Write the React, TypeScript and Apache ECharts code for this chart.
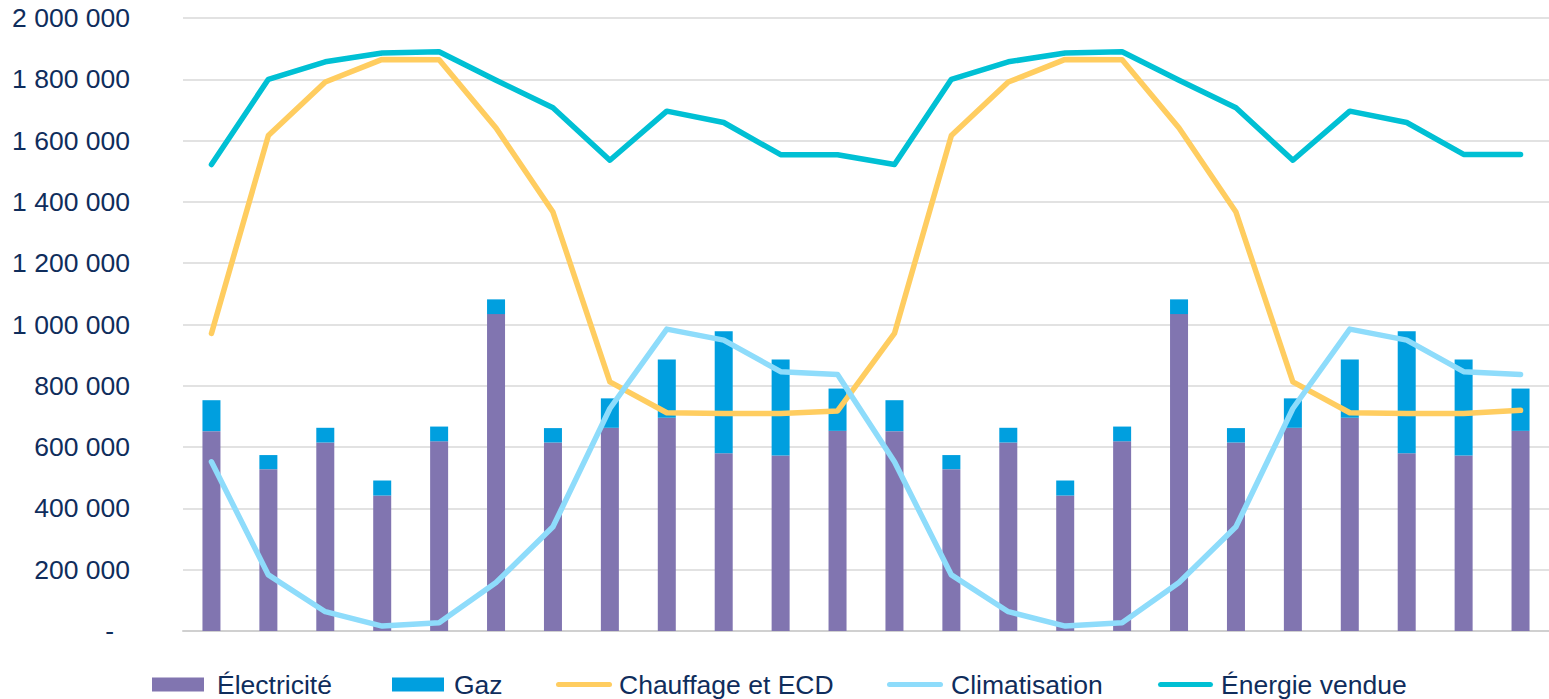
import React, { useEffect, useRef } from "react";
import * as echarts from "echarts";

const categories = [
  "1", "2", "3", "4", "5", "6", "7", "8", "9", "10", "11", "12",
  "13", "14", "15", "16", "17", "18", "19", "20", "21", "22", "23", "24",
];

const electricite = [
  652000, 528000, 615000, 442000, 619000, 1034000, 615000, 663000, 696000, 580000, 573000, 653000,
  652000, 528000, 615000, 442000, 619000, 1034000, 615000, 663000, 696000, 580000, 573000, 653000,
];

const gaz = [
  101000, 46000, 48000, 49000, 48000, 48000, 47000, 96000, 190000, 398000, 313000, 138000,
  101000, 46000, 48000, 49000, 48000, 48000, 47000, 96000, 190000, 398000, 313000, 138000,
];

const chauffage = [
  971000, 1617000, 1791000, 1865000, 1864000, 1641000, 1367000, 813000, 712000, 710000, 710000, 718000,
  971000, 1617000, 1791000, 1865000, 1864000, 1641000, 1367000, 813000, 712000, 710000, 710000, 720000,
];

const climatisation = [
  552000, 183000, 63000, 16000, 27000, 158000, 340000, 726000, 985000, 949000, 846000, 837000,
  552000, 183000, 63000, 16000, 27000, 158000, 340000, 726000, 985000, 949000, 846000, 837000,
];

const energieVendue = [
  1522000, 1800000, 1857000, 1886000, 1890000, 1797000, 1707000, 1536000, 1696000, 1659000, 1554000, 1554000,
  1522000, 1800000, 1857000, 1886000, 1890000, 1797000, 1707000, 1536000, 1696000, 1659000, 1555000, 1555000,
];

const COLORS = {
  elec: "#8175b0",
  gaz: "#009fdf",
  chauffage: "#ffcd60",
  clim: "#8edcfb",
  energie: "#00c0d4",
};

const TEXT = "#0f2d5c";
const FONT = "'Liberation Sans', Arial, sans-serif";
const FS = 26.5;
const CAPSULE = "path://M2.5,0 L53.5,0 A2.5,2.5 0 0 1 53.5,5 L2.5,5 A2.5,2.5 0 0 1 2.5,0 Z";

function fmt(v: number): string {
  if (v === 0) return "{d|-}";
  return String(v).replace(/\B(?=(\d{3})+(?!\d))/g, " ");
}

export default function App() {
  const ref = useRef<HTMLDivElement>(null);
  useEffect(() => {
    if (!ref.current) return;
    const chart = echarts.init(ref.current, undefined, { renderer: "svg" });
    const legendText = (pad: number) => ({
      fontSize: FS,
      color: TEXT,
      fontFamily: FONT,
      padding: [0, 0, 0, pad],
    });
    const barLegend = (name: string, left: number, pad: number, color: string) => ({
      data: [name],
      left,
      top: 671,
      padding: 0,
      icon: "rect",
      itemWidth: 52,
      itemHeight: 14,
      itemStyle: { color },
      textStyle: legendText(pad),
    });
    const lineLegend = (name: string, left: number, w: number, pad: number, color: string) => ({
      data: [name],
      left,
      top: 671,
      padding: 0,
      icon: CAPSULE,
      symbolKeepAspect: false,
      itemWidth: w,
      itemHeight: 5,
      itemStyle: { color, borderWidth: 0 },
      textStyle: legendText(pad),
    });
    const lineSeries = (name: string, data: number[], color: string) => ({
      name,
      type: "line",
      data,
      symbol: "none",
      showSymbol: false,
      lineStyle: { color, width: 5.5, cap: "round", join: "round" },
      itemStyle: { color },
    });
    chart.setOption({
      animation: false,
      grid: { left: 183, top: 18, width: 1375, height: 613 },
      legend: [
        barLegend("Électricité", 152, 8, COLORS.elec),
        barLegend("Gaz", 392, 5, COLORS.gaz),
        lineLegend("Chauffage et ECD", 556, 56, 2, COLORS.chauffage),
        lineLegend("Climatisation", 887, 56, 3, COLORS.clim),
        lineLegend("Énergie vendue", 1158, 55, 3, COLORS.energie),
      ],
      xAxis: {
        type: "category",
        data: categories,
        boundaryGap: true,
        axisLine: { show: true, lineStyle: { color: "#d0d0d0", width: 2 } },
        axisTick: { show: false },
        axisLabel: { show: false },
      },
      yAxis: {
        type: "value",
        min: 0,
        max: 2000000,
        interval: 200000,
        axisLine: { show: false },
        axisTick: { show: false },
        splitLine: { lineStyle: { color: "#d9d9d9", width: 1.5 } },
        axisLabel: {
          margin: 53,
          fontSize: FS,
          color: TEXT,
          fontFamily: FONT,
          formatter: fmt,
          rich: { d: { fontSize: FS, color: TEXT, fontFamily: FONT, padding: [0, 16, 0, 0] } },
        },
      },
      series: [
        { name: "Électricité", type: "bar", stack: "total", data: electricite, barWidth: 18, itemStyle: { color: COLORS.elec } },
        { name: "Gaz", type: "bar", stack: "total", data: gaz, barWidth: 18, itemStyle: { color: COLORS.gaz } },
        lineSeries("Chauffage et ECD", chauffage, COLORS.chauffage),
        lineSeries("Climatisation", climatisation, COLORS.clim),
        lineSeries("Énergie vendue", energieVendue, COLORS.energie),
      ],
    });
    return () => chart.dispose();
  }, []);
  return (
    <div
      ref={ref}
      style={{ position: "absolute", left: 0, top: 0, width: 1549, height: 699, background: "#ffffff" }}
    />
  );
}
